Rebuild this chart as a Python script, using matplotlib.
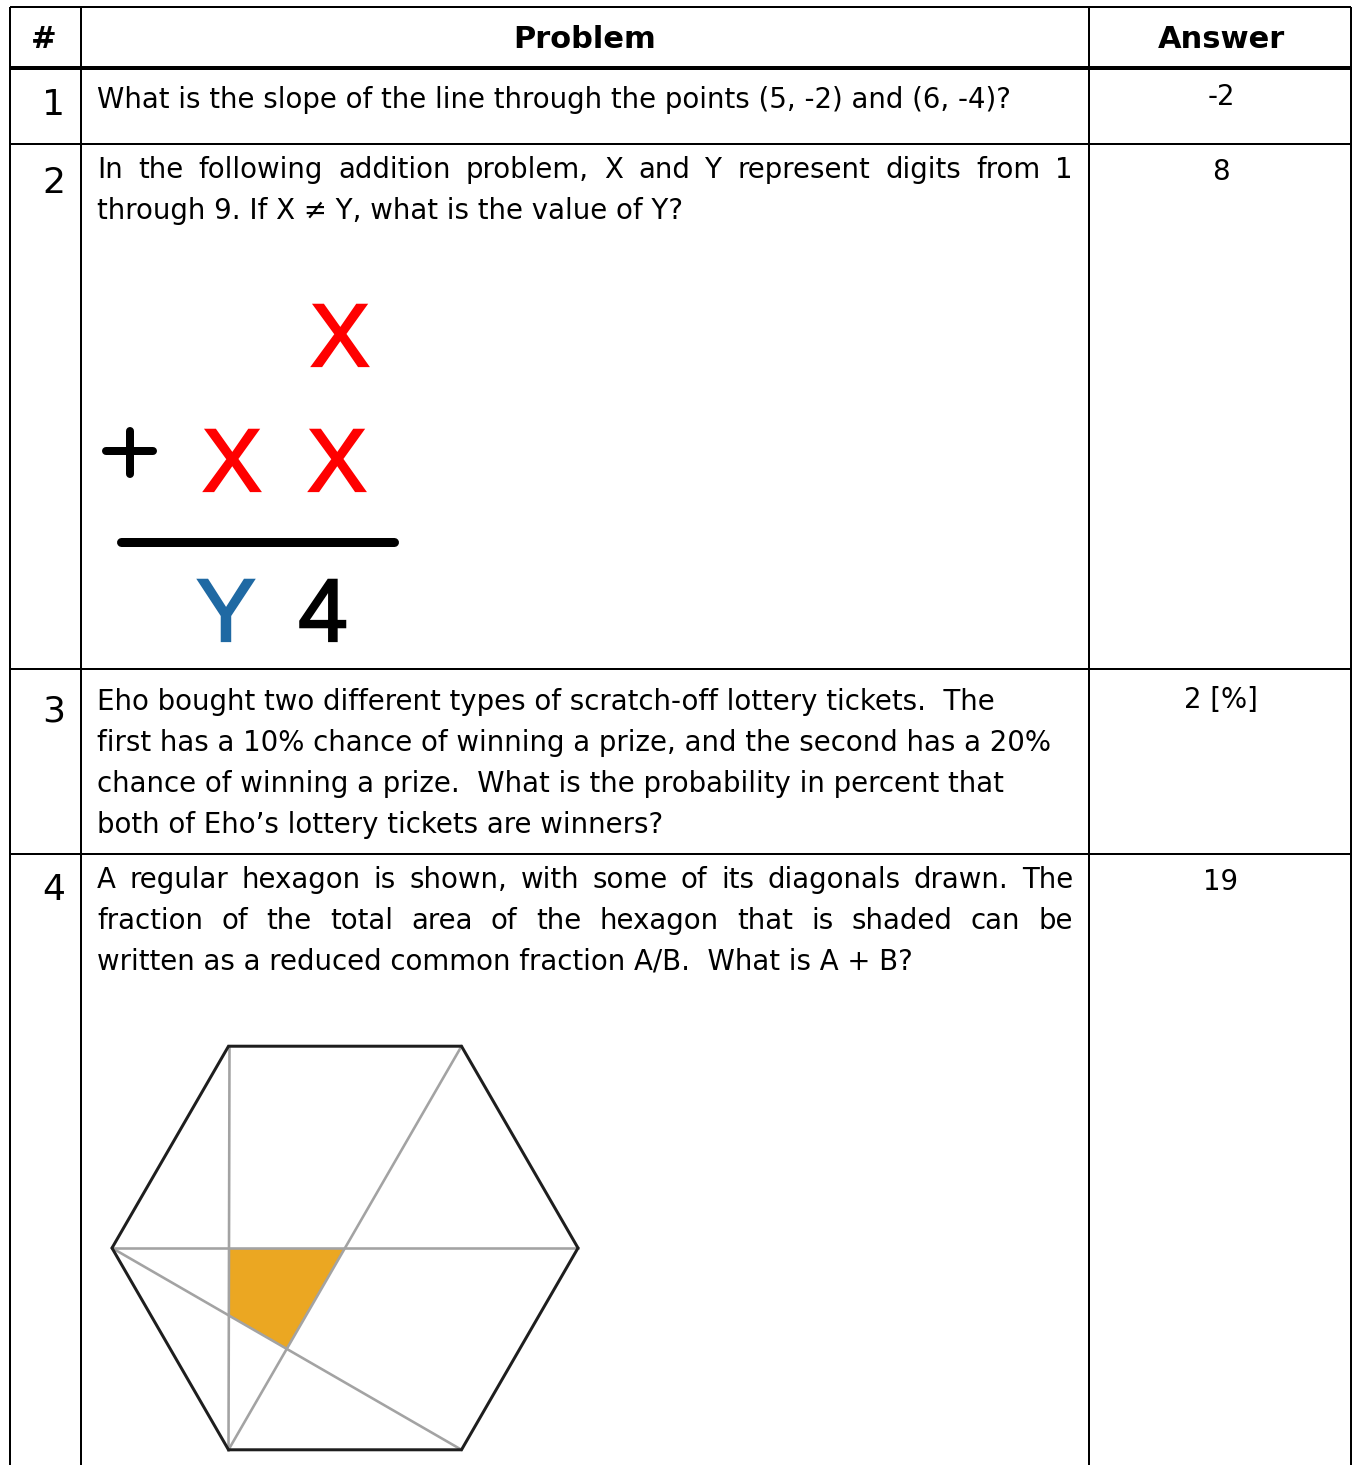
import matplotlib
matplotlib.use("Agg")
import matplotlib.pyplot as plt
import matplotlib.patheffects as pe
import numpy as np
from matplotlib.patches import Polygon

# ---------------- content ----------------
headers = ["#", "Problem", "Answer"]
numbers = ["1", "2", "3", "4"]
answers = ["-2", "8", "2 [%]", "19"]
# each problem: list of (line text, justified?)
problem_lines = [
    [("What is the slope of the line through the points (5, -2) and (6, -4)?", False)],
    [("In the following addition problem, X and Y represent digits from 1", True),
     ("through 9. If X \u2260 Y, what is the value of Y?", False)],
    [("Eho bought two different types of scratch-off lottery tickets.  The", False),
     ("first has a 10% chance of winning a prize, and the second has a 20%", False),
     ("chance of winning a prize.  What is the probability in percent that", False),
     ("both of Eho\u2019s lottery tickets are winners?", False)],
    [("A regular hexagon is shown, with some of its diagonals drawn.  The", True),
     ("fraction of the total area of the hexagon that is shaded can be", True),
     ("written as a reduced common fraction A/B.  What is A + B?", False)],
]
addition_top = ["X"]
addition_mid = ["X", "X"]
addition_sum = ["Y", "4"]

# ---------------- figure ----------------
W, H = 1353, 1465
fig = plt.figure(figsize=(W / 100, H / 100), dpi=100)
ax = fig.add_axes([0, 0, 1, 1])
ax.set_xlim(0, W)
ax.set_ylim(H, 0)
ax.axis("off")
renderer = fig.canvas.get_renderer()

FONT = "DejaVu Sans"
PX = 72 / 100  # points per pixel

# table lines
col_x = [10, 81, 1089, 1351]
row_y = [7, 68, 144, 669, 854]
for x in col_x:
    ax.plot([x, x], [row_y[0], H + 5], color="black", lw=2 * PX, solid_capstyle="butt")
for i, y in enumerate(row_y):
    ax.plot([col_x[0], col_x[-1]], [y, y], color="black",
            lw=(4 if i == 1 else 2) * PX, solid_capstyle="butt")

# header
hdr_x = [44, 585, 1221]
for t, x in zip(headers, hdr_x):
    ax.text(x, 39, t, fontsize=22, fontweight="bold", family=FONT,
            ha="center", va="center")

# body font size fitted to the width of the first line
probe = ax.text(0, 0, problem_lines[0][0][0], fontsize=16, family=FONT)
w = probe.get_window_extent(renderer).width
probe.remove()
FS = 16 * 918 / w

TX0, TX1 = 97, 1073
line_y = [[100], [170, 211], [702, 743, 784, 825], [880, 921, 962]]
for lines, ys in zip(problem_lines, line_y):
    for (txt, just), y in zip(lines, ys):
        if not just:
            ax.text(TX0, y, txt, fontsize=FS, family=FONT, ha="left", va="center")
        else:
            words = txt.split()
            objs = [ax.text(0, y, wd, fontsize=FS, family=FONT, ha="left", va="center")
                    for wd in words]
            widths = [o.get_window_extent(renderer).width for o in objs]
            gap = (TX1 - TX0 - sum(widths)) / (len(words) - 1)
            x = TX0
            for o, wd in zip(objs, widths):
                o.set_x(x)
                x += wd + gap

num_y = [105, 183, 712, 890]
for n, y in zip(numbers, num_y):
    ax.text(54, y, n, fontsize=26, family=FONT, ha="center", va="center")

ans_y = [97, 172, 700, 882]
for a, y in zip(answers, ans_y):
    ax.text(1221, y, a, fontsize=FS, family=FONT, ha="center", va="center")

# ---------------- addition figure ----------------
AFONT = "Liberation Sans"
AFS = 64
red = "#ff0000"
blue = "#1f69a3"


def big(x, y, t, c):
    ax.text(x, y, t, fontsize=AFS, family=AFONT, color=c, ha="center", va="baseline",
            path_effects=[pe.withStroke(linewidth=1.6, foreground=c, joinstyle="miter")])


big(340, 366, addition_top[0], red)
for t, x in zip(addition_mid, [232, 337]):
    big(x, 491, t, red)
for t, x, c in zip(addition_sum, [226, 323], [blue, "black"]):
    big(x, 641, t, c)
# plus sign and sum line
ax.plot([106, 153], [451, 451], color="black", lw=8 * PX, solid_capstyle="round")
ax.plot([130, 130], [431, 474], color="black", lw=8 * PX, solid_capstyle="round")
ax.plot([121, 394], [542, 542], color="black", lw=9 * PX, solid_capstyle="round")

# ---------------- hexagon ----------------
cx, cy, R = 345, 1248, 233
ang = np.deg2rad(np.arange(0, 360, 60))
V = np.column_stack([cx + R * np.cos(ang), cy - R * np.sin(ang)])  # V0..V5


def inter(p1, p2, p3, p4):
    p1, p2, p3, p4 = map(np.asarray, (p1, p2, p3, p4))
    d1, d2 = p2 - p1, p4 - p3
    A = np.array([d1, -d2]).T
    t = np.linalg.solve(A, p3 - p1)[0]
    return p1 + t * d1


diags = [(2, 4), (3, 0), (1, 4), (3, 5)]
P1 = inter(V[2], V[4], V[3], V[0])
P2 = inter(V[3], V[0], V[1], V[4])
P3 = inter(V[1], V[4], V[3], V[5])
P4 = inter(V[3], V[5], V[2], V[4])
ax.add_patch(Polygon([P1, P2, P3, P4], closed=True, facecolor="#eba722",
                     edgecolor="none", zorder=2))
for a, b in diags:
    ax.plot([V[a, 0], V[b, 0]], [V[a, 1], V[b, 1]], color="#a3a3a3",
            lw=2.6 * PX, zorder=3)
ax.add_patch(Polygon(V, closed=True, facecolor="none", edgecolor="#1e1e1e",
                     lw=3 * PX, zorder=4, joinstyle="miter"))

fig.savefig("out.png", dpi=100)
